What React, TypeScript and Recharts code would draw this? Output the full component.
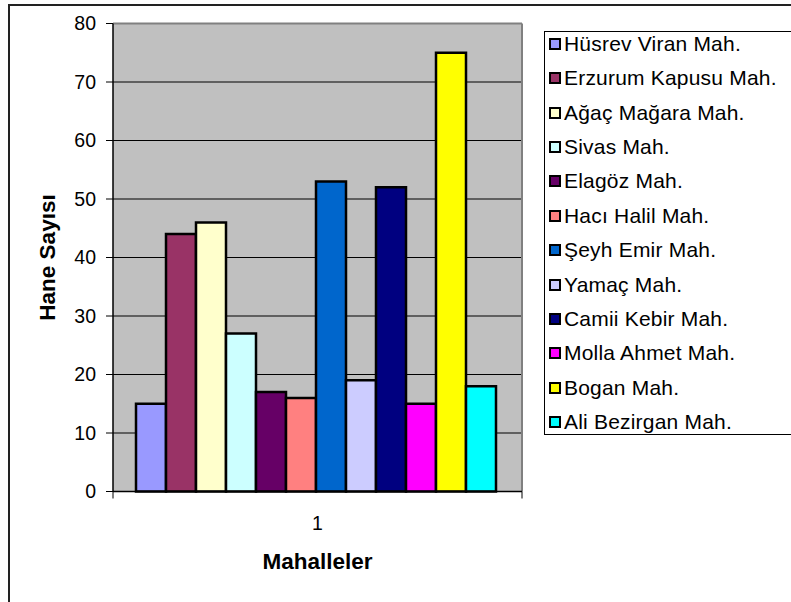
import { BarChart, Bar, XAxis, YAxis, CartesianGrid, Label } from "recharts";

const CATEGORIES = ["1"];

const SERIES_NAMES = [
  "Hüsrev Viran Mah.",
  "Erzurum Kapusu Mah.",
  "Ağaç Mağara Mah.",
  "Sivas Mah.",
  "Elagöz Mah.",
  "Hacı Halil Mah.",
  "Şeyh Emir Mah.",
  "Yamaç Mah.",
  "Camii Kebir Mah.",
  "Molla Ahmet Mah.",
  "Bogan Mah.",
  "Ali Bezirgan Mah.",
];

// one value per series (single category "1")
const SERIES_VALUES = [15, 44, 46, 27, 17, 16, 53, 19, 52, 15, 75, 18];

const SERIES_COLORS = [
  "#9999FF",
  "#993366",
  "#FFFFCC",
  "#CCFFFF",
  "#660066",
  "#FF8080",
  "#0066CC",
  "#CCCCFF",
  "#000080",
  "#FF00FF",
  "#FFFF00",
  "#00FFFF",
];

const Y_TICKS = [0, 10, 20, 30, 40, 50, 60, 70, 80];

const FONT = '"Liberation Sans", Arial, sans-serif';
const PLOT_WIDTH = 409;

const data = CATEGORIES.map((name) => {
  const row: Record<string, string | number> = { name };
  SERIES_NAMES.forEach((_n, i) => {
    row[`s${i}`] = SERIES_VALUES[i];
  });
  return row;
});

function CategoryTick(props: any) {
  const { x, y, payload } = props;
  const half = payload?.offset ?? PLOT_WIDTH / 2 / CATEGORIES.length;
  return (
    <g>
      <line x1={x - half} y1={y} x2={x - half} y2={y + 7} stroke="#000" />
      <line x1={x + half} y1={y} x2={x + half} y2={y + 7} stroke="#000" />
      <text x={x} y={y + 38} textAnchor="middle" fontSize={19.5} fill="#000" fontFamily={FONT}>
        {payload.value}
      </text>
    </g>
  );
}

export default function App() {
  return (
    <div
      style={{
        position: "absolute",
        left: 0,
        top: 0,
        width: 791,
        height: 602,
        overflow: "hidden",
        background: "#fff",
        fontFamily: FONT,
      }}
    >
      {/* chart frame, right/bottom edges fall outside the picture */}
      <div
        style={{
          position: "absolute",
          left: 8,
          top: 4,
          width: 800,
          height: 620,
          borderLeft: "2px solid #222",
          borderTop: "2px solid #222",
        }}
      />
      <BarChart
        width={791}
        height={602}
        data={data}
        margin={{ top: 23.5, right: 269, bottom: 30.5, left: 0 }}
        barCategoryGap={23}
        barGap={0}
        style={{ position: "absolute", left: 0, top: 0 }}
      >
        <CartesianGrid vertical={false} stroke="#000" fill="#C0C0C0" />
        <CartesianGrid
          stroke="#808080"
          strokeWidth={2}
          horizontalCoordinatesGenerator={({ offset }: any) => [offset.top]}
          verticalCoordinatesGenerator={({ offset }: any) => [offset.left + offset.width]}
        />
        <XAxis
          dataKey="name"
          height={80}
          tickLine={false}
          tickSize={0}
          tickMargin={0}
          axisLine={{ stroke: "#000", strokeWidth: 1.5 }}
          tick={<CategoryTick />}
        >
          <Label
            value="Mahalleler"
            position="insideBottom"
            offset={2.5}
            style={{ fontWeight: "bold", fontSize: 22.5, fill: "#000", fontFamily: FONT }}
          />
        </XAxis>
        <YAxis
          width={113}
          domain={[0, 80]}
          ticks={Y_TICKS}
          interval={0}
          tickSize={7}
          tickMargin={10}
          tick={{ fill: "#000", fontSize: 19.5, fontFamily: FONT }}
          tickLine={{ stroke: "#000" }}
          axisLine={{ stroke: "#000", strokeWidth: 1.5 }}
        >
          <Label
            value="Hane Sayısı"
            angle={-90}
            position="insideLeft"
            offset={47}
            style={{ textAnchor: "middle", fontWeight: "bold", fontSize: 22.5, fill: "#000", fontFamily: FONT }}
          />
        </YAxis>
        {SERIES_NAMES.map((name, i) => (
          <Bar
            key={name}
            dataKey={`s${i}`}
            name={name}
            fill={SERIES_COLORS[i]}
            stroke="#000"
            strokeWidth={2.5}
            isAnimationActive={false}
          />
        ))}
      </BarChart>
      {/* legend */}
      <div
        style={{
          position: "absolute",
          left: 544,
          top: 31,
          width: 270,
          height: 404,
          border: "1px solid #000",
          boxSizing: "border-box",
          background: "#fff",
        }}
      >
        <div style={{ position: "absolute", left: 4, top: -5.2 }}>
          {SERIES_NAMES.map((name, i) => (
            <div
              key={name}
              style={{ display: "flex", alignItems: "center", height: 34.36, whiteSpace: "nowrap" }}
            >
              <span
                style={{
                  width: 8,
                  height: 8,
                  border: "2px solid #000",
                  background: SERIES_COLORS[i],
                  marginRight: 3,
                  flex: "none",
                }}
              />
              <span style={{ fontSize: 21, color: "#000", letterSpacing: 0.2 }}>{name}</span>
            </div>
          ))}
        </div>
      </div>
    </div>
  );
}
